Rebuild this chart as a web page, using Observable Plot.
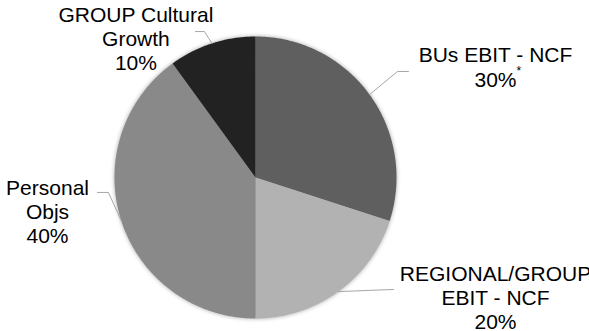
<!DOCTYPE html>
<html>
<head>
<meta charset="utf-8">
<script src="https://cdn.jsdelivr.net/npm/d3@7"></script>
<script src="https://cdn.jsdelivr.net/npm/@observablehq/plot@0.6"></script>
<style>
  html, body { margin: 0; padding: 0; background: #fff; overflow: hidden; }
  #chart svg { display: block; overflow: hidden; }
</style>
</head>
<body>
<div id="chart"></div>
<script>
// ---- data ----
const categories = ["BUs EBIT - NCF", "REGIONAL/GROUP EBIT - NCF", "Personal Objs", "GROUP Cultural Growth"];
const shares = [30, 20, 40, 10];
const labelNames = ["BUs EBIT - NCF", "REGIONAL/GROUP\nEBIT - NCF", "Personal\nObjs", "GROUP Cultural\nGrowth"];
const sliceColors = ["#5f5f5f", "#b2b2b2", "#898989", "#222222"];

// ---- label layout (pie radius = 1) ----
const labelLayout = [
  {tx: 1.702, ty: 0.785, ex: 1.007, ey: 0.752, hx: 1.085},
  {tx: 1.702, ty: -0.851, ex: 0.979, ey: -0.794, hx: null},
  {tx: -1.475, ty: -0.238, ex: -1.043, ey: -0.106, hx: -1.121},
  {tx: -0.848, ty: 0.987, ex: -0.362, ey: 1.035, hx: -0.426}
];
const footnoteMark = {x: 1.851, y: 0.755};

// ---- geometry from the pie layout ----
const arcs = d3.pie().sort(null).value(d => d)(shares);
const slicePts = [];
arcs.forEach((a, i) => {
  const name = categories[i];
  slicePts.push({name, x: 0, y: 0});
  const n = Math.max(2, Math.ceil((a.endAngle - a.startAngle) / (Math.PI / 360)));
  for (let k = 0; k <= n; k++) {
    const t = a.startAngle + (a.endAngle - a.startAngle) * k / n;
    slicePts.push({name, x: Math.sin(t), y: Math.cos(t)});
  }
  slicePts.push({name, x: 0, y: 0});
});

const leaderPts = [];
arcs.forEach((a, i) => {
  const mid = (a.startAngle + a.endAngle) / 2;
  const L = labelLayout[i];
  leaderPts.push({name: categories[i], x: Math.sin(mid), y: Math.cos(mid)});
  leaderPts.push({name: categories[i], x: L.ex, y: L.ey});
  if (L.hx !== null) leaderPts.push({name: categories[i], x: L.hx, y: L.ey});
});

const labels = categories.map((c, i) => ({
  name: c,
  text: labelNames[i] + "\n" + shares[i] + "%",
  x: labelLayout[i].tx,
  y: labelLayout[i].ty
}));

const font = "Liberation Sans, Arial, Helvetica, sans-serif";

const chart = Plot.plot({
  width: 589,
  height: 331,
  marginLeft: 114,
  marginRight: 193,
  marginTop: 36,
  marginBottom: 13,
  style: {fontFamily: font, background: "#fff"},
  x: {domain: [-1, 1], axis: null},
  y: {domain: [-1, 1], axis: null},
  color: {domain: categories, range: sliceColors},
  marks: [
    Plot.line(slicePts, {x: "x", y: "y", z: "name", fill: "name", stroke: "none"}),
    Plot.line(leaderPts, {x: "x", y: "y", z: "name", stroke: "#a6a6a6", strokeWidth: 1}),
    Plot.text(labels, {x: "x", y: "y", text: "text", fontSize: 21, lineHeight: 1.15, fill: "#000", textAnchor: "middle", lineAnchor: "middle"}),
    Plot.text([footnoteMark], {x: "x", y: "y", text: () => "*", fontSize: 12, fill: "#000", textAnchor: "start"})
  ]
});
document.getElementById("chart").appendChild(chart);
const g = chart.querySelector('g[aria-label="line"]');
if (g) g.style.filter = "drop-shadow(0 0 2px rgba(0,0,0,0.35))";
</script>
</body>
</html>
